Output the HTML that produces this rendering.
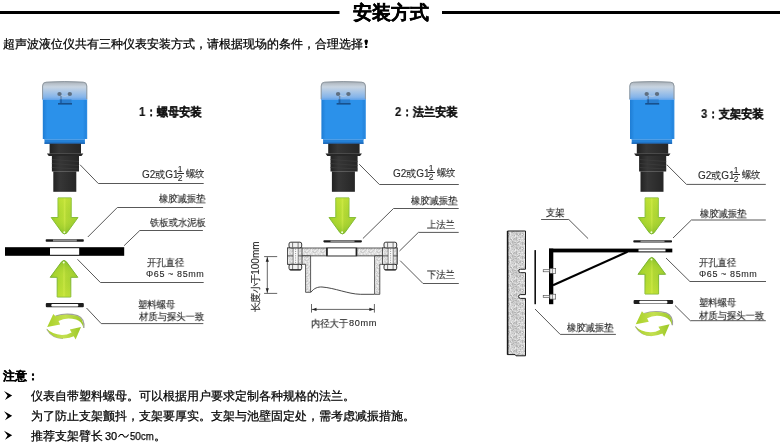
<!DOCTYPE html>
<html><head><meta charset="utf-8">
<style>
html,body{margin:0;padding:0;background:#fff;}
body{width:780px;height:446px;position:relative;overflow:hidden;font-family:"Liberation Sans",sans-serif;color:#000;}
.t{position:absolute;white-space:nowrap;line-height:1;will-change:transform;}
.lb{font-size:10px;color:#262626;-webkit-text-stroke:0.12px #262626;}
.cx{transform:scaleX(0.93);transform-origin:0 0;}
.la{font-size:9px;letter-spacing:0.6px;color:#262626;-webkit-text-stroke:0.1px #262626;}
.hd{font-size:12px;font-weight:bold;color:#111;transform:scaleX(0.935);transform-origin:0 0;-webkit-text-stroke:0.15px #111;}
.bm{font-size:12px;color:#000;-webkit-text-stroke:0.25px #000;}
.g2{position:absolute;width:70px;height:20px;font-size:10px;line-height:1;color:#2a2a2a;will-change:transform;-webkit-text-stroke:0.1px #2a2a2a;}
.g2 span,.g2 i{position:absolute;white-space:nowrap;font-style:normal;line-height:1;}
.g2 .f{font-size:8.5px;}
.g2 i{background:#2a2a2a;height:0.9px;width:6.6px;}
svg{position:absolute;left:0;top:0;}
</style></head><body>
<svg width="780" height="446" viewBox="0 0 780 446">
<defs>
  <linearGradient id="gBody" x1="0" x2="1" y1="0" y2="0">
    <stop offset="0" stop-color="#1f7dd4"/>
    <stop offset="0.1" stop-color="#2b91ea"/>
    <stop offset="0.9" stop-color="#2b91ea"/>
    <stop offset="0.96" stop-color="#2586de"/>
    <stop offset="1" stop-color="#2f8ee4"/>
  </linearGradient>
  <linearGradient id="gCap" x1="0" x2="0" y1="0" y2="1">
    <stop offset="0" stop-color="#a4acb4"/>
    <stop offset="0.15" stop-color="#b9c2cb"/>
    <stop offset="0.3" stop-color="#c8d4e1"/>
    <stop offset="0.55" stop-color="#a9c6e6"/>
    <stop offset="0.85" stop-color="#84b4ea"/>
    <stop offset="1" stop-color="#5ea2ea"/>
  </linearGradient>
  <linearGradient id="gBlk" x1="0" x2="1" y1="0" y2="0">
    <stop offset="0" stop-color="#222"/>
    <stop offset="0.3" stop-color="#363636"/>
    <stop offset="1" stop-color="#262626"/>
  </linearGradient>
  <linearGradient id="gArr" x1="0" x2="1" y1="0" y2="0">
    <stop offset="0" stop-color="#8cc42a"/>
    <stop offset="0.15" stop-color="#a6d42c"/>
    <stop offset="0.45" stop-color="#b6dc34"/>
    <stop offset="0.5" stop-color="#c8e644"/>
    <stop offset="0.56" stop-color="#b2d834"/>
    <stop offset="1" stop-color="#9ccc30"/>
  </linearGradient>
  <linearGradient id="gArrVd" x1="0" x2="0" y1="0" y2="1">
    <stop offset="0" stop-color="#d8ee3c" stop-opacity="0.35"/>
    <stop offset="0.5" stop-color="#c8e63c" stop-opacity="0.0"/>
    <stop offset="1" stop-color="#4a9a18" stop-opacity="0.4"/>
  </linearGradient>
  <linearGradient id="gArrVu" x1="0" x2="0" y1="1" y2="0">
    <stop offset="0" stop-color="#d8ee3c" stop-opacity="0.35"/>
    <stop offset="0.5" stop-color="#c8e63c" stop-opacity="0.0"/>
    <stop offset="1" stop-color="#4a9a18" stop-opacity="0.4"/>
  </linearGradient>
  <g id="sensor">
    <!-- body -->
    <rect x="42.8" y="99" width="44.4" height="40" fill="url(#gBody)"/>
    <rect x="44.5" y="138.8" width="40.4" height="5" fill="#2480d6"/>
    <rect x="44.5" y="138.9" width="40.4" height="0.9" fill="#5aa6ec"/>
    <rect x="44.5" y="142.6" width="40.4" height="1.2" fill="#1a62b2"/>
    <!-- cap -->
    <path d="M42.3,100 L42.3,86 Q42.3,82.2 46,81.9 Q64.6,80.7 83.3,81.9 Q87.1,82.2 87.1,86 L87.1,100 Z" fill="url(#gCap)"/>
    <path d="M42.6,99 L42.6,86 Q42.6,82.4 46,82.2 Q64.6,81 83.3,82.2 Q86.8,82.4 86.8,86 L86.8,99" fill="none" stroke="#8e979f" stroke-width="1"/>
    <ellipse cx="59.5" cy="94" rx="2.2" ry="1.9" fill="#5f6f80"/>
    <ellipse cx="69.8" cy="94" rx="2.2" ry="1.9" fill="#5f6f80"/>
    <path d="M61.2,95.6 Q64.6,97.2 68.1,95.6" stroke="#b8cde2" stroke-width="0.8" fill="none"/>
    <rect x="60.3" y="96" width="1.4" height="4" fill="#6a88aa"/>
    <rect x="59.5" y="99.5" width="12" height="4" fill="#2a80d2"/>
    <rect x="60.2" y="99.5" width="1.6" height="4" fill="#1a5ea8"/>
    <rect x="58" y="103" width="14" height="1.6" fill="#17508c"/>
    <!-- collar -->
    <rect x="49.6" y="143.7" width="31.4" height="10" fill="url(#gBlk)"/>
    <path d="M46.9,153.4 L83.3,153.4 L81.5,155.9 L48.7,155.9 Z" fill="#262626"/>
    <!-- thread -->
    <rect x="51.9" y="155.8" width="27.1" height="15.7" fill="url(#gBlk)"/>
    <path d="M51.9,159.5 L79,161.5 M51.9,163.5 L79,165.5 M51.9,167.5 L79,169" stroke="#3e3e3e" stroke-width="0.7"/>
    <!-- tube -->
    <rect x="53.3" y="171.4" width="23" height="20.4" fill="url(#gBlk)"/>
  </g>
  <g id="arrowDown">
    <path d="M-6.6,0.4 L6.6,0.4 L6.6,20 L13.4,20 L2.4,35.2 Q0,37.8 -2.4,35.2 L-13.4,20 L-6.6,20 Z" fill="url(#gArr)" stroke="#86be38" stroke-width="1" stroke-linejoin="round"/>
    <path d="M-6.6,0.4 L6.6,0.4 L6.6,20 L13.4,20 L2.4,35.2 Q0,37.8 -2.4,35.2 L-13.4,20 L-6.6,20 Z" fill="url(#gArrVd)"/>
    <circle cx="-0.3" cy="34.8" r="1" fill="#f4ffe0"/>
  </g>
  <g id="arrowUp">
    <path d="M-6.8,37.6 L6.8,37.6 L6.8,17.9 L13.8,17.9 L2.4,2.4 Q0,-0.4 -2.4,2.4 L-13.8,17.9 L-6.8,17.9 Z" fill="url(#gArr)" stroke="#7cb434" stroke-width="1" stroke-linejoin="round"/>
    <path d="M-6.8,37.6 L6.8,37.6 L6.8,17.9 L13.8,17.9 L2.4,2.4 Q0,-0.4 -2.4,2.4 L-13.8,17.9 L-6.8,17.9 Z" fill="url(#gArrVu)"/>
    <circle cx="-0.3" cy="3.2" r="1" fill="#f4ffe0"/>
  </g>
  <g id="nut">
    <rect x="0" y="0" width="38" height="4.2" rx="1" fill="#1e1e1e"/>
    <rect x="5.5" y="0.9" width="27" height="2.6" rx="1" fill="#fff"/>
  </g>
  <linearGradient id="gRot" x1="0" x2="1" y1="0" y2="0">
    <stop offset="0" stop-color="#a8d028"/>
    <stop offset="0.5" stop-color="#c4e050"/>
    <stop offset="1" stop-color="#9cc828"/>
  </linearGradient>
  <g id="rot">
    <path d="M55.5,316.2 Q66,312.6 77.5,315.6 Q84.8,318.5 83.8,328" fill="none" stroke="#a0a0a0" stroke-width="1.3"/>
    <path d="M55.5,316.2 Q66,312.8 77.5,316 Q84,318.8 83.4,328 Q82,321.5 76,319.6 Q66,316.8 58.5,321 L60.2,324.4 L47.2,326.9 L53.3,314 Z" fill="url(#gRot)"/>
    <path d="M46.8,329.2 Q52,338.2 63,338.4" fill="none" stroke="#a8a8a8" stroke-width="1.2"/>
    <path d="M46.5,328.6 Q52,339 64,338.6 Q70,338.2 73.8,336.3 L75.6,339.4 L81,327 L69.8,329.4 L71.6,332.4 Q67,335 62,335 Q52,334.4 46.5,328.6 Z" fill="url(#gRot)"/>
  </g>
  <g id="bolt">
    <rect x="-1.6" y="5.7" width="14.6" height="16.4" fill="url(#dots)" stroke="#333" stroke-width="0.8"/>
    <line x1="-1.6" y1="13.7" x2="13" y2="13.7" stroke="#333" stroke-width="0.8"/>
    <rect x="4.1" y="5.7" width="5" height="16.4" fill="#fafafa" stroke="#444" stroke-width="0.6"/>
    <line x1="6.6" y1="6.5" x2="6.6" y2="21.5" stroke="#777" stroke-width="0.8" stroke-dasharray="1,1.2"/>
    <rect x="0" y="0" width="12.7" height="5.7" rx="1.8" fill="#f2f2f2" stroke="#222" stroke-width="0.9"/>
    <path d="M3.6,0.4 V5.3 M9.1,0.4 V5.3" stroke="#444" stroke-width="0.7"/>
    <rect x="0" y="22.1" width="12.7" height="5.7" rx="1.8" fill="#f2f2f2" stroke="#222" stroke-width="0.9"/>
    <path d="M3.6,22.5 V27.4 M9.1,22.5 V27.4" stroke="#444" stroke-width="0.7"/>
    <path d="M0.8,27.6 H11.9" stroke="#111" stroke-width="0.9"/>
  </g>
  <pattern id="concrete" width="14" height="14" patternUnits="userSpaceOnUse"><rect width="14" height="14" fill="#d2d2d2"/><rect x="0" y="0" width="1" height="1" fill="#e2e2e2"/><rect x="1" y="0" width="1" height="1" fill="#ececec"/><rect x="3" y="0" width="1" height="1" fill="#e2e2e2"/><rect x="4" y="0" width="1" height="1" fill="#ececec"/><rect x="6" y="0" width="1" height="1" fill="#c4c4c4"/><rect x="7" y="0" width="1" height="1" fill="#ececec"/><rect x="10" y="0" width="1" height="1" fill="#b4b4b4"/><rect x="11" y="0" width="1" height="1" fill="#c4c4c4"/><rect x="12" y="0" width="1" height="1" fill="#b4b4b4"/><rect x="1" y="1" width="1" height="1" fill="#b4b4b4"/><rect x="6" y="1" width="1" height="1" fill="#b4b4b4"/><rect x="7" y="1" width="1" height="1" fill="#b4b4b4"/><rect x="8" y="1" width="1" height="1" fill="#ececec"/><rect x="9" y="1" width="1" height="1" fill="#b4b4b4"/><rect x="10" y="1" width="1" height="1" fill="#c4c4c4"/><rect x="11" y="1" width="1" height="1" fill="#c4c4c4"/><rect x="12" y="1" width="1" height="1" fill="#b4b4b4"/><rect x="13" y="1" width="1" height="1" fill="#e2e2e2"/><rect x="0" y="2" width="1" height="1" fill="#e2e2e2"/><rect x="2" y="2" width="1" height="1" fill="#ececec"/><rect x="4" y="2" width="1" height="1" fill="#e2e2e2"/><rect x="6" y="2" width="1" height="1" fill="#e2e2e2"/><rect x="7" y="2" width="1" height="1" fill="#c4c4c4"/><rect x="12" y="2" width="1" height="1" fill="#c4c4c4"/><rect x="13" y="2" width="1" height="1" fill="#c4c4c4"/><rect x="0" y="3" width="1" height="1" fill="#c4c4c4"/><rect x="1" y="3" width="1" height="1" fill="#b4b4b4"/><rect x="3" y="3" width="1" height="1" fill="#e2e2e2"/><rect x="5" y="3" width="1" height="1" fill="#e2e2e2"/><rect x="8" y="3" width="1" height="1" fill="#b4b4b4"/><rect x="9" y="3" width="1" height="1" fill="#c4c4c4"/><rect x="11" y="3" width="1" height="1" fill="#e2e2e2"/><rect x="13" y="3" width="1" height="1" fill="#e2e2e2"/><rect x="0" y="4" width="1" height="1" fill="#b4b4b4"/><rect x="3" y="4" width="1" height="1" fill="#c4c4c4"/><rect x="4" y="4" width="1" height="1" fill="#b4b4b4"/><rect x="5" y="4" width="1" height="1" fill="#c4c4c4"/><rect x="8" y="4" width="1" height="1" fill="#b4b4b4"/><rect x="9" y="4" width="1" height="1" fill="#c4c4c4"/><rect x="10" y="4" width="1" height="1" fill="#b4b4b4"/><rect x="11" y="4" width="1" height="1" fill="#b4b4b4"/><rect x="13" y="4" width="1" height="1" fill="#b4b4b4"/><rect x="0" y="5" width="1" height="1" fill="#ececec"/><rect x="1" y="5" width="1" height="1" fill="#e2e2e2"/><rect x="2" y="5" width="1" height="1" fill="#c4c4c4"/><rect x="4" y="5" width="1" height="1" fill="#b4b4b4"/><rect x="6" y="5" width="1" height="1" fill="#b4b4b4"/><rect x="7" y="5" width="1" height="1" fill="#e2e2e2"/><rect x="8" y="5" width="1" height="1" fill="#c4c4c4"/><rect x="9" y="5" width="1" height="1" fill="#c4c4c4"/><rect x="12" y="5" width="1" height="1" fill="#c4c4c4"/><rect x="0" y="6" width="1" height="1" fill="#c4c4c4"/><rect x="1" y="6" width="1" height="1" fill="#e2e2e2"/><rect x="4" y="6" width="1" height="1" fill="#b4b4b4"/><rect x="6" y="6" width="1" height="1" fill="#c4c4c4"/><rect x="7" y="6" width="1" height="1" fill="#c4c4c4"/><rect x="9" y="6" width="1" height="1" fill="#c4c4c4"/><rect x="10" y="6" width="1" height="1" fill="#c4c4c4"/><rect x="11" y="6" width="1" height="1" fill="#b4b4b4"/><rect x="12" y="6" width="1" height="1" fill="#b4b4b4"/><rect x="0" y="7" width="1" height="1" fill="#c4c4c4"/><rect x="2" y="7" width="1" height="1" fill="#e2e2e2"/><rect x="3" y="7" width="1" height="1" fill="#e2e2e2"/><rect x="5" y="7" width="1" height="1" fill="#e2e2e2"/><rect x="6" y="7" width="1" height="1" fill="#ececec"/><rect x="8" y="7" width="1" height="1" fill="#c4c4c4"/><rect x="9" y="7" width="1" height="1" fill="#b4b4b4"/><rect x="12" y="7" width="1" height="1" fill="#c4c4c4"/><rect x="13" y="7" width="1" height="1" fill="#c4c4c4"/><rect x="2" y="8" width="1" height="1" fill="#c4c4c4"/><rect x="6" y="8" width="1" height="1" fill="#e2e2e2"/><rect x="7" y="8" width="1" height="1" fill="#b4b4b4"/><rect x="8" y="8" width="1" height="1" fill="#b4b4b4"/><rect x="10" y="8" width="1" height="1" fill="#c4c4c4"/><rect x="12" y="8" width="1" height="1" fill="#c4c4c4"/><rect x="1" y="9" width="1" height="1" fill="#c4c4c4"/><rect x="2" y="9" width="1" height="1" fill="#b4b4b4"/><rect x="4" y="9" width="1" height="1" fill="#b4b4b4"/><rect x="5" y="9" width="1" height="1" fill="#c4c4c4"/><rect x="6" y="9" width="1" height="1" fill="#ececec"/><rect x="9" y="9" width="1" height="1" fill="#c4c4c4"/><rect x="11" y="9" width="1" height="1" fill="#c4c4c4"/><rect x="12" y="9" width="1" height="1" fill="#b4b4b4"/><rect x="13" y="9" width="1" height="1" fill="#c4c4c4"/><rect x="0" y="10" width="1" height="1" fill="#e2e2e2"/><rect x="1" y="10" width="1" height="1" fill="#b4b4b4"/><rect x="2" y="10" width="1" height="1" fill="#b4b4b4"/><rect x="3" y="10" width="1" height="1" fill="#e2e2e2"/><rect x="4" y="10" width="1" height="1" fill="#ececec"/><rect x="5" y="10" width="1" height="1" fill="#b4b4b4"/><rect x="6" y="10" width="1" height="1" fill="#e2e2e2"/><rect x="12" y="10" width="1" height="1" fill="#b4b4b4"/><rect x="13" y="10" width="1" height="1" fill="#b4b4b4"/><rect x="0" y="11" width="1" height="1" fill="#b4b4b4"/><rect x="4" y="11" width="1" height="1" fill="#b4b4b4"/><rect x="6" y="11" width="1" height="1" fill="#e2e2e2"/><rect x="8" y="11" width="1" height="1" fill="#c4c4c4"/><rect x="10" y="11" width="1" height="1" fill="#b4b4b4"/><rect x="11" y="11" width="1" height="1" fill="#ececec"/><rect x="4" y="12" width="1" height="1" fill="#c4c4c4"/><rect x="8" y="12" width="1" height="1" fill="#e2e2e2"/><rect x="11" y="12" width="1" height="1" fill="#ececec"/><rect x="13" y="12" width="1" height="1" fill="#e2e2e2"/><rect x="2" y="13" width="1" height="1" fill="#b4b4b4"/><rect x="7" y="13" width="1" height="1" fill="#e2e2e2"/><rect x="10" y="13" width="1" height="1" fill="#e2e2e2"/><rect x="12" y="13" width="1" height="1" fill="#b4b4b4"/></pattern>
  <pattern id="dots" width="8" height="8" patternUnits="userSpaceOnUse"><rect width="8" height="8" fill="#e0e0e0"/><rect x="0" y="0" width="1" height="1" fill="#efefef"/><rect x="1" y="0" width="1" height="1" fill="#cdcdcd"/><rect x="3" y="0" width="1" height="1" fill="#cdcdcd"/><rect x="5" y="0" width="1" height="1" fill="#efefef"/><rect x="6" y="0" width="1" height="1" fill="#cdcdcd"/><rect x="0" y="1" width="1" height="1" fill="#cdcdcd"/><rect x="2" y="1" width="1" height="1" fill="#cdcdcd"/><rect x="3" y="1" width="1" height="1" fill="#cdcdcd"/><rect x="6" y="1" width="1" height="1" fill="#cdcdcd"/><rect x="7" y="1" width="1" height="1" fill="#efefef"/><rect x="3" y="2" width="1" height="1" fill="#efefef"/><rect x="5" y="2" width="1" height="1" fill="#cdcdcd"/><rect x="7" y="2" width="1" height="1" fill="#efefef"/><rect x="0" y="3" width="1" height="1" fill="#cdcdcd"/><rect x="1" y="3" width="1" height="1" fill="#cdcdcd"/><rect x="2" y="3" width="1" height="1" fill="#efefef"/><rect x="4" y="3" width="1" height="1" fill="#cdcdcd"/><rect x="7" y="3" width="1" height="1" fill="#efefef"/><rect x="1" y="4" width="1" height="1" fill="#cdcdcd"/><rect x="2" y="4" width="1" height="1" fill="#cdcdcd"/><rect x="3" y="4" width="1" height="1" fill="#cdcdcd"/><rect x="6" y="4" width="1" height="1" fill="#efefef"/><rect x="1" y="5" width="1" height="1" fill="#efefef"/><rect x="4" y="5" width="1" height="1" fill="#efefef"/><rect x="1" y="6" width="1" height="1" fill="#efefef"/><rect x="3" y="6" width="1" height="1" fill="#cdcdcd"/><rect x="6" y="6" width="1" height="1" fill="#cdcdcd"/><rect x="0" y="7" width="1" height="1" fill="#cdcdcd"/><rect x="5" y="7" width="1" height="1" fill="#efefef"/></pattern>
</defs>

<!-- title lines -->
<rect x="0" y="11" width="339.5" height="3" fill="#000"/>
<rect x="442" y="11" width="338" height="3" fill="#000"/>

<!-- sensors -->
<use href="#sensor"/>
<use href="#sensor" transform="translate(278.6,0)"/>
<use href="#sensor" transform="translate(587.2,0)"/>

<!-- ===== Panel 1 ===== -->
<use href="#arrowDown" transform="translate(64.6,197.5)"/>
<!-- gasket -->
<rect x="45.7" y="239.2" width="38.1" height="2.5" rx="0.8" fill="#1a1a1a"/>
<rect x="53" y="239.4" width="23.8" height="2.1" fill="#8e8e8e"/>
<!-- plate -->
<rect x="5" y="247.2" width="119.2" height="8.6" fill="#000"/>
<rect x="50" y="248.2" width="29.2" height="6.6" fill="#fff"/>
<use href="#arrowUp" transform="translate(64,259.4)"/>
<use href="#nut" transform="translate(45.8,303)"/>
<use href="#rot"/>

<!-- Panel1 leaders -->


<!-- ===== Panel 2 ===== -->
<use href="#arrowDown" transform="translate(342.4,197.5)"/>
<rect x="323.4" y="240.2" width="38.5" height="2.2" rx="0.8" fill="#1a1a1a"/>
<rect x="330.5" y="240.4" width="24" height="1.8" fill="#8e8e8e"/>
<!-- flange -->
<g stroke="#333" stroke-width="0.8">
  <rect x="288" y="248" width="109.2" height="7.9" fill="url(#dots)"/>
  <path d="M288,255.9 L310.6,255.9 L310.6,292.3 L305.6,292.3 L305.6,264.3 L288,264.3 Z" fill="url(#dots)"/>
  <path d="M397.2,255.9 L374.6,255.9 L374.6,294.3 L379.8,294.3 L379.8,264.3 L397.2,264.3 Z" fill="url(#dots)"/>
  <rect x="326.6" y="248" width="30.2" height="7.9" fill="#fff"/>
</g>
<rect x="326.2" y="248" width="1.6" height="7.9" fill="#222"/>
<rect x="355.6" y="248" width="1.6" height="7.9" fill="#222"/>
<path d="M310.9,292.3 C314,288 318,286.8 322,287 C335,288 348,294 360.3,294.3 L374.4,294.3" stroke="#333" stroke-width="0.9" fill="none"/>
<!-- bolts -->
<use href="#bolt" transform="translate(289,242.2)"/>
<use href="#bolt" transform="translate(384,242.2)"/>
<!-- dimensions -->
<g stroke="#555" stroke-width="0.9" fill="none">
  <path d="M267.3,256.6 L267.3,293.4 M264.1,256.6 L277.2,256.6 M264.1,293.4 L277.2,293.4"/>
  <path d="M311.5,309.4 L374.4,309.4 M311.5,304 L311.5,312.6 M374.4,304 L374.4,312.6"/>
</g>
<g fill="#222">
  <path d="M267.3,257.2 L265.7,261.7 L268.9,261.7 Z"/>
  <path d="M267.3,292.8 L265.7,288.3 L268.9,288.3 Z"/>
  <path d="M312,309.4 L316.5,307.8 L316.5,311 Z"/>
  <path d="M373.9,309.4 L369.4,307.8 L369.4,311 Z"/>
</g>


<!-- ===== Panel 3 ===== -->
<use href="#arrowDown" transform="translate(651.7,197.5)"/>
<rect x="633.3" y="240.3" width="38.7" height="2.2" rx="0.8" fill="#1a1a1a"/>
<rect x="640.5" y="240.5" width="24" height="1.8" fill="#8e8e8e"/>
<!-- wall -->
<path d="M507.5,231 L525.5,231 L525.5,269.2 L520.5,269.2 A1.75,1.75 0 0 0 520.5,272.7 L525.5,272.7 L525.5,294.6 L520.5,294.6 A1.9,1.9 0 0 0 520.5,298.4 L525.5,298.4 L525.5,355.8 L516,355.8 L515,354.6 L507.5,354.6 Z" fill="url(#concrete)" stroke="#1a1a1a" stroke-width="1"/>
<line x1="507.6" y1="231" x2="507.6" y2="354.6" stroke="#1a1a1a" stroke-width="1.6"/>
<!-- rubber pad -->
<rect x="534.4" y="250.1" width="1.6" height="54.1" fill="#111"/>
<!-- bracket -->
<rect x="549" y="248.6" width="4.3" height="55.6" fill="#000"/>
<rect x="549" y="248.6" width="123.3" height="3.8" fill="#000"/>
<rect x="638.5" y="249.4" width="27" height="2" fill="#fff"/>
<path d="M553,285.3 L627.5,251.8" stroke="#000" stroke-width="2.1"/>
<!-- bolts -->
<g stroke="#444" stroke-width="0.6" fill="#f4f4f4">
  <rect x="543.2" y="269.7" width="6.5" height="2.1"/>
  <rect x="549.9" y="268.4" width="5.8" height="4.9"/>
  <path d="M552.4,268.6 V273.1" fill="none"/>
  <rect x="543.2" y="295.5" width="6.5" height="2.1"/>
  <rect x="549.9" y="294.2" width="5.8" height="4.9"/>
  <path d="M552.4,294.4 V298.9" fill="none"/>
</g>
<use href="#arrowUp" transform="translate(651.8,256.4)"/>
<use href="#nut" transform="translate(633.6,299.9) scale(1.04,1)"/>
<use href="#rot" transform="translate(588.6,-2.7)"/>


<g stroke="#585858" stroke-width="1" fill="none">
  <path d="M80,164.7 L98.3,183.5 L203.7,183.5"/>
  <path d="M87.8,237 L117.3,207.5 L203.1,207.5"/>
  <path d="M124.1,245.7 L139.8,230.5 L202.9,230.5"/>
  <path d="M77.5,259.3 L100.4,282.5 L203.7,282.5"/>
  <path d="M86.5,308 L101.2,323.6 L203.3,323.6"/>
  <path d="M359.2,164.2 L379.4,184.5 L458.8,184.5"/>
  <path d="M362.9,238.5 L393.5,208.5 L458.7,208.5"/>
  <path d="M399.5,251 L418.4,232.4 L458.7,232.4"/>
  <path d="M400.2,260.7 L423,283.5 L458.8,283.5"/>
  <path d="M541.1,219.5 L568.8,219.5 L588.1,238.6"/>
  <path d="M666.7,164.6 L686.5,184.4 L765.8,184.4"/>
  <path d="M673,238 L691.4,220 L765.8,220"/>
  <path d="M666,258 L689.9,281.5 L766,281.5"/>
  <path d="M675,305.5 L690.3,320.7 L765.8,320.7"/>
  <path d="M535,309 L560.2,334.4 L615.9,334.4"/>
</g>

<path d="M118.4,437 L120.5,434.5 L122.5,434.5 L124.5,437 L126.5,437 L128.7,434.5" stroke="#000" stroke-width="1.1" fill="none"/>
<path d="M364.4,41 Q364.4,39.5 366.2,39.5 Q368,39.5 368,41 L366.9,45.3 L365.5,45.3 Z" fill="#000"/>
<rect x="365.1" y="46" width="2.2" height="2" fill="#000"/>
<!-- bullets -->
<g fill="#000">
  <path d="M4,391 L12.2,395.5 L5,400 L7.6,395.6 Z"/>
  <path d="M4,411.3 L12.2,415.8 L5,420.3 L7.6,415.9 Z"/>
  <path d="M4,430.8 L12.2,435.3 L5,439.8 L7.6,435.4 Z"/>
</g>
</svg>

<!-- Title -->
<div class="t" style="left:353px;top:3.3px;font-size:19px;font-weight:bold;color:#000;-webkit-text-stroke:0.35px #000;">安装方式</div>
<div class="t bm" style="left:3px;top:37.5px;">超声波液位仪共有三种仪表安装方式，请根据现场的条件，合理选择</div>

<!-- headings -->
<div class="t hd" style="left:139px;top:106px;">1：螺母安装</div>
<div class="t hd" style="left:395px;top:106.3px;">2：法兰安装</div>
<div class="t hd" style="left:701px;top:108.2px;">3：支架安装</div>

<!-- panel 1 labels -->
<div class="g2" style="left:141.8px;top:169.8px"><span style="left:0;top:0">G2或G1</span><span class="f" style="left:35.8px;top:-5.5px">1</span><i style="left:35.2px;top:3.05px"></i><span class="f" style="left:35.7px;top:4.4px">2</span><span class="cx" style="left:44px;top:-0.8px">螺纹</span></div>
<div class="t lb cx" style="left:158.8px;top:194px;">橡胶减振垫</div>
<div class="t lb cx" style="left:150.2px;top:218.1px;">铁板或水泥板</div>
<div class="t lb cx" style="left:146.8px;top:258.4px;">开孔直径</div>
<div class="t la" style="left:146.4px;top:269.6px;">Φ65 ~ 85mm</div>
<div class="t lb cx" style="left:138.2px;top:300.4px;">塑料螺母</div>
<div class="t lb cx" style="left:138.6px;top:312.2px;">材质与探头一致</div>

<!-- panel 2 labels -->
<div class="g2" style="left:392.8px;top:169.4px"><span style="left:0;top:0">G2或G1</span><span class="f" style="left:35.8px;top:-5.5px">1</span><i style="left:35.2px;top:3.05px"></i><span class="f" style="left:35.7px;top:4.4px">2</span><span class="cx" style="left:44px;top:-0.8px">螺纹</span></div>
<div class="t lb cx" style="left:410.6px;top:196.3px;">橡胶减振垫</div>
<div class="t lb cx" style="left:426.8px;top:220.2px;">上法兰</div>
<div class="t lb cx" style="left:427.3px;top:270.3px;">下法兰</div>
<div class="t lb cx" style="left:311px;top:318.9px;">内径大于</div>
<div class="t la" style="left:349.2px;top:319.3px;font-size:9.2px;letter-spacing:0.6px">80mm</div>
<div class="t lb" style="left:250.6px;top:311.6px;font-size:10px;transform:rotate(-90deg);transform-origin:0 0;"><span style="letter-spacing:-0.7px">长度小于</span>100mm</div>

<!-- panel 3 labels -->
<div class="t lb cx" style="left:546.4px;top:207.9px;">支架</div>
<div class="g2" style="left:697.8px;top:171.2px"><span style="left:0;top:0">G2或G1</span><span class="f" style="left:35.8px;top:-5.5px">1</span><i style="left:35.2px;top:3.05px"></i><span class="f" style="left:35.7px;top:4.4px">2</span><span class="cx" style="left:44px;top:-0.8px">螺纹</span></div>
<div class="t lb cx" style="left:700.2px;top:208.6px;">橡胶减振垫</div>
<div class="t lb cx" style="left:699px;top:258.4px;">开孔直径</div>
<div class="t la" style="left:699.3px;top:269.8px;">Φ65 ~ 85mm</div>
<div class="t lb cx" style="left:698.8px;top:298.3px;">塑料螺母</div>
<div class="t lb cx" style="left:699.4px;top:310.8px;">材质与探头一致</div>
<div class="t lb cx" style="left:567.1px;top:323px;">橡胶减振垫</div>

<!-- notes -->
<div class="t bm" style="left:3px;top:370px;font-weight:bold;">注意：</div>
<div class="t bm" style="left:31px;top:390px;">仪表自带塑料螺母。可以根据用户要求定制各种规格的法兰。</div>
<div class="t bm" style="left:31px;top:410px;">为了防止支架颤抖，支架要厚实。支架与池壁固定处，需考虑减振措施。</div>
<div class="t bm" style="left:31px;top:429.5px;">推荐支架臂长</div>
<div class="t bm" style="left:105px;top:430.5px;font-size:11px;">30</div>
<div class="t bm" style="left:129.5px;top:430.5px;font-size:11px;transform:scaleX(0.885);transform-origin:0 0;">50cm</div>
<div class="t bm" style="left:153.8px;top:429.5px;">。</div>
</body></html>
